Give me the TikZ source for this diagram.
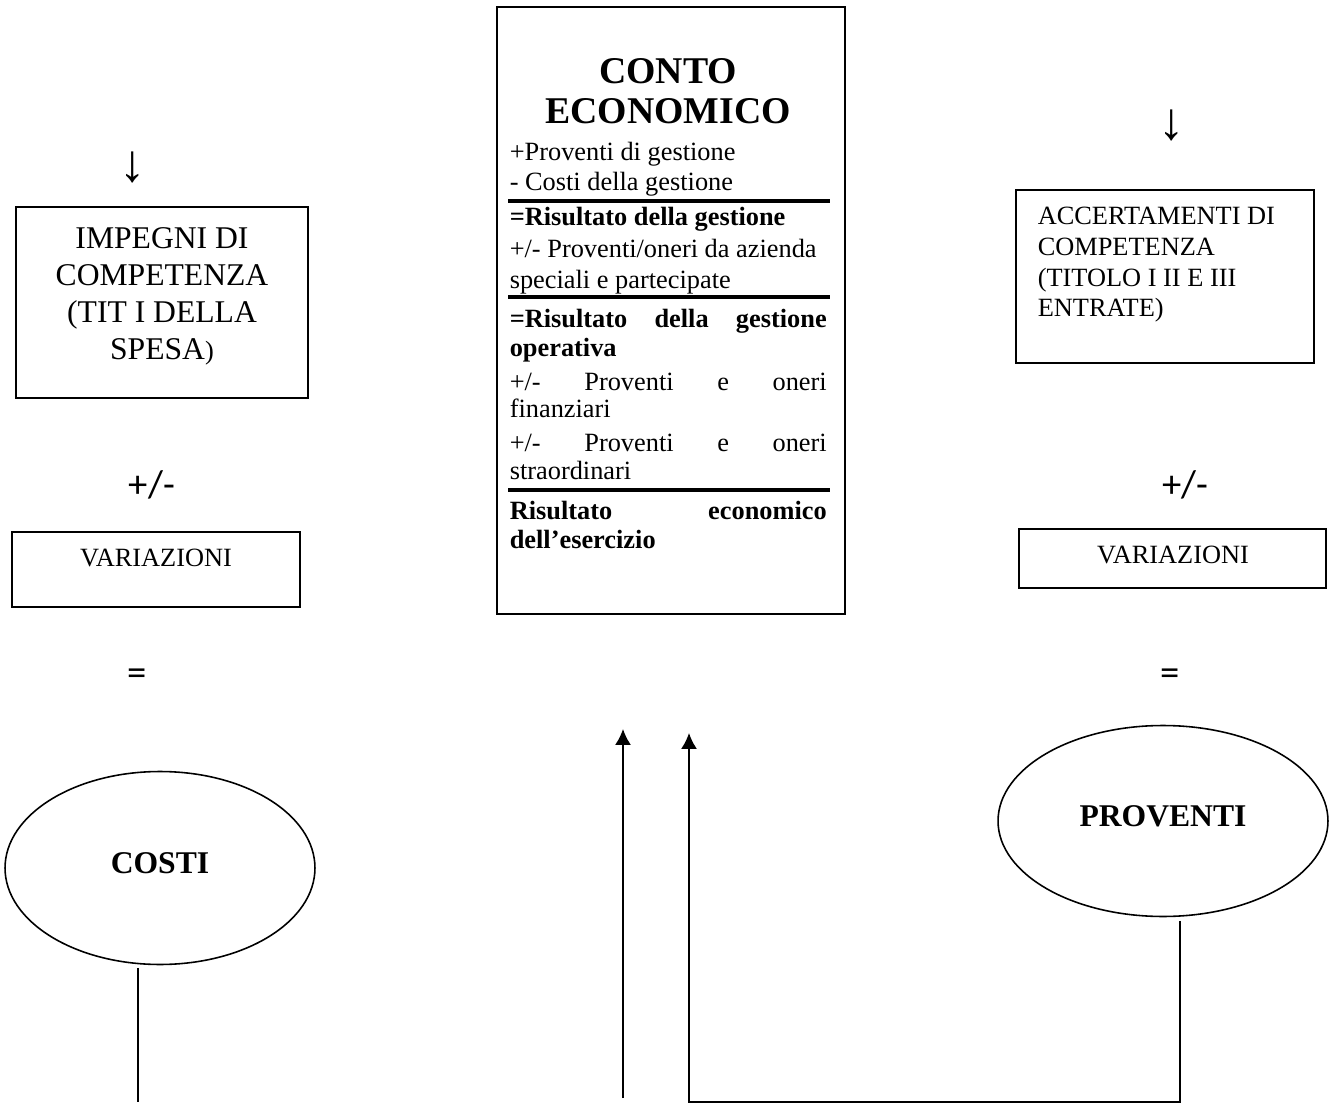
\documentclass[tikz,border=0pt]{standalone}
\usepackage{fontspec}
\setmainfont{Liberation Serif}
\newfontfamily\sanscal{Carlito}
\usetikzlibrary{shapes.geometric,arrows.meta}

\newcommand\fs[2]{\fontsize{#1}{#2}\selectfont}
\newcommand\cw{6.34cm}

\begin{document}
\begin{tikzpicture}[x=0.02cm,y=-0.02cm,>={Latex[length=9pt,width=9pt]},line width=0.9pt,
    box/.style={draw,rectangle,inner sep=0pt},
    ovale/.style={draw,ellipse,inner sep=0pt,font=\fs{18}{21}\bfseries},
    riga/.style={anchor=base west,inner sep=0pt,font=\fs{15}{18}},
    segno/.style={inner sep=0pt,font=\sanscal\fs{22}{24}},
    freccia/.style={inner sep=0pt,font=\fs{30}{32}}]
                \useasboundingbox (0,0) rectangle (1332,1104);
                % conto economico
                \node[box,minimum width=6.96cm,minimum height=12.14cm] (conto) at (671,310.5) {};
                \node[anchor=base,inner sep=0pt,font=\fs{21.5}{24}\bfseries] (titolo1) at (668,84) {CONTO};
                \node[anchor=base,inner sep=0pt,font=\fs{21.5}{24}\bfseries] (titolo2) at (668,124) {ECONOMICO};
                \node[riga] (r1) at (509,161) {+Proventi di gestione};
                \node[riga] (r2) at (509,191) {- Costi della gestione};
                \node[riga] (r3) at (509,226) {\textbf{=Risultato della gestione}};
                \node[riga] (r4) at (509,258) {+/- Proventi/oneri da azienda};
                \node[riga] (r5) at (509,289) {speciali e partecipate};
                \node[riga] (r6) at (509,328) {\makebox[\cw][s]{\bfseries =Risultato della gestione}};
                \node[riga] (r7) at (509,357) {\textbf{operativa}};
                \node[riga] (r8) at (509,391) {\makebox[\cw][s]{+/- Proventi e oneri}};
                \node[riga] (r9) at (509,418) {finanziari};
                \node[riga] (r10) at (509,452) {\makebox[\cw][s]{+/- Proventi e oneri}};
                \node[riga] (r11) at (509,480) {straordinari};
                \node[riga] (r12) at (509,520) {\makebox[\cw][s]{\bfseries Risultato economico}};
                \node[riga] (r13) at (509,549) {\textbf{dell'esercizio}};
                \draw[line width=2pt] (508,201) -- (830,201);
                \draw[line width=2pt] (508,297) -- (830,297);
                \draw[line width=2pt] (508,490) -- (830,490);
                % spesa
                \node[freccia] (giu1) at (133,167) {↓};
                \node[box,minimum width=5.84cm,minimum height=3.82cm] (impegni) at (162,302.5) {};
                \node[anchor=north,align=center,inner sep=0pt,font=\fs{18}{21}] (impegnitxt) at (162,227) {IMPEGNI DI\\COMPETENZA\\(TIT I DELLA\\SPESA{\fs{15}{15})}};
                \node[segno] (pm1) at (152,485) {+/-};
                \node[box,minimum width=5.76cm,minimum height=1.5cm] (var1) at (156,569.5) {};
                \node[anchor=base,inner sep=0pt,font=\fs{15}{18}] (var1txt) at (156,566) {VARIAZIONI};
                \node[segno] (uguale1) at (137,677) {=};
                \node[ovale,minimum width=6.2cm,minimum height=3.86cm] (costi) at (160,868) {\raisebox{5.5pt}{COSTI}};
                % entrata
                \node[freccia] (giu2) at (1172,125) {↓};
                \node[box,minimum width=5.96cm,minimum height=3.46cm] (accert) at (1165,276.5) {};
                \node[anchor=north west,align=left,inner sep=0pt,font=\fs{15}{17.5}] (accerttxt) at (1037,206.5) {ACCERTAMENTI DI\\COMPETENZA\\(TITOLO I II E III\\ENTRATE)};
                \node[segno] (pm2) at (1185,485) {+/-};
                \node[box,minimum width=6.14cm,minimum height=1.18cm] (var2) at (1172.5,558.5) {};
                \node[anchor=base,inner sep=0pt,font=\fs{15}{18}] (var2txt) at (1173,563) {VARIAZIONI};
                \node[segno] (uguale2) at (1170,677) {=};
                \node[ovale,minimum width=6.6cm,minimum height=3.82cm] (proventi) at (1163,821) {\raisebox{5.5pt}{PROVENTI}};
                % collegamenti
                \coordinate (c1) at (138,1102);
                \coordinate (b1) at (623,1098);
                \coordinate (t1) at (623,729);
                \coordinate (p1) at (1180,1102);
                \coordinate (p2) at (689,1102);
                \coordinate (t2) at (689,733);
                \draw[shorten <=1.5pt] (costi.south -| c1) -- (c1);
                \draw[->] (b1) -- (t1);
                \draw[->,shorten <=2pt] (proventi.south -| p1) -- (p1) -- (p2) -- (t2);
            \end{tikzpicture}
\end{document}
